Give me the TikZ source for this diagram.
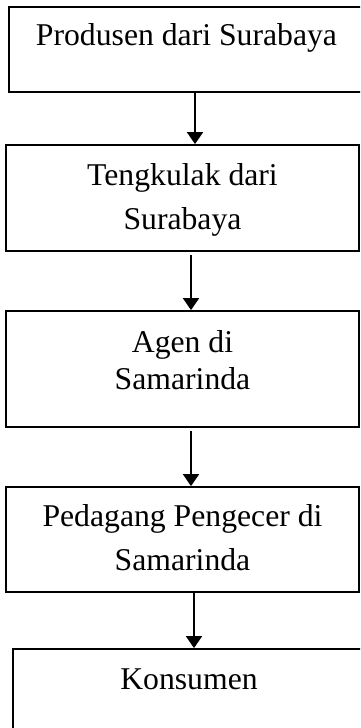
\documentclass[tikz,border=0pt]{standalone}
\usepackage{fontspec}
\setmainfont{Liberation Serif}
\usetikzlibrary{arrows.meta,positioning}
\tikzset{
  chainbox/.style={rectangle, draw=black, line width=1.8pt, inner sep=0pt,
                   minimum width=353pt},
  chaintext/.style={anchor=base, align=center, inner sep=0pt,
                    font=\fontsize{31.7}{44}\selectfont},
  chainarr/.style={-{Triangle[length=12pt,width=16pt]}, line width=1.8pt},
}
\begin{document}
\begin{tikzpicture}[x=1pt, y=-1pt]
  \path[use as bounding box, clip] (0,0) rectangle (360,728);
  % boxes of the chain
  \node[chainbox, minimum width=357pt, minimum height=85pt] (prod) at (187.5,49.5) {};
  \node[chainbox, minimum height=106pt] (teng) at (182.5,198) {};
  \node[chainbox, minimum height=116pt] (agen) at (182.5,369) {};
  \node[chainbox, minimum height=105pt] (peda) at (182.5,539.5) {};
  \node[chainbox, minimum width=352pt, minimum height=121pt] (kons) at (189,709.5) {};
  % labels (base = last line)
  \node[chaintext] (prodtxt) at (186.5,45) {Produsen dari Surabaya};
  \node[chaintext] (tengtxt) at (182.5,229.3) {Tengkulak dari\\Surabaya};
  \node[chaintext, font=\fontsize{31.7}{37}\selectfont] (agentxt) at (182.5,389) {Agen di\\Samarinda};
  \node[chaintext] (pedatxt) at (182.5,570) {Pedagang Pengecer di\\Samarinda};
  \node[chaintext] (konstxt) at (189,689) {Konsumen};
  % arrows
  \draw[chainarr] ([xshift=7.5pt]prod.south) -- ([xshift=7.5pt]prod.south |- teng.north);
  \draw[chainarr, shorten <=3pt] ([xshift=8.5pt]teng.south) -- ([xshift=8.5pt]teng.south |- agen.north);
  \draw[chainarr, shorten <=3pt] ([xshift=8.5pt]agen.south) -- ([xshift=8.5pt]agen.south |- peda.north);
  \draw[chainarr] ([xshift=11.5pt]peda.south) -- ([xshift=11.5pt]peda.south |- kons.north);
\end{tikzpicture}
\end{document}
